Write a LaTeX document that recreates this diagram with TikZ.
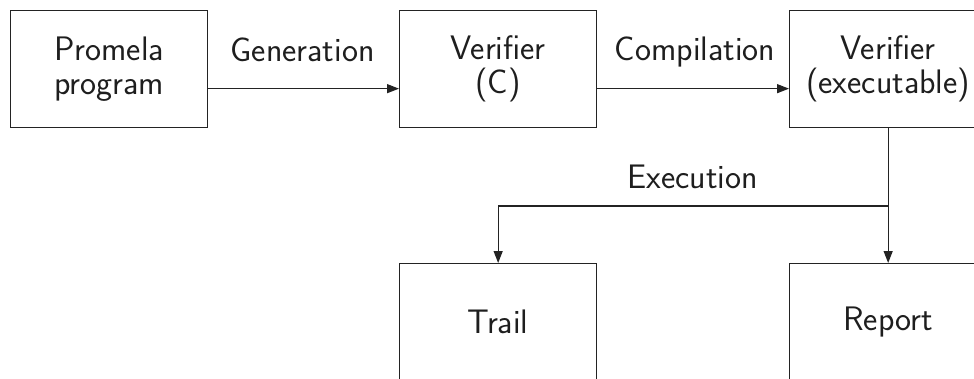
\documentclass[tikz,border=0pt]{standalone}
\usetikzlibrary{arrows.meta}
\definecolor{ln}{RGB}{35,35,35}
\definecolor{tx}{RGB}{30,30,30}
\begin{document}
\begin{tikzpicture}[x=1pt,y=1pt,
  box/.style={draw=ln,line width=1.3pt,minimum width=197pt,minimum height=117pt,inner sep=0pt,anchor=north west,
    align=center,text=tx,font=\sffamily\fontsize{34}{34}\selectfont},
  lbl/.style={inner sep=0pt,anchor=base,text=tx,font=\sffamily\fontsize{34}{34}\selectfont},
  conn/.style={draw=ln,line width=1.3pt},
  arr/.style={conn,-{Triangle[length=12pt,width=9pt]}}]
\useasboundingbox (0,0) rectangle (974,-378);
\clip (0,0) rectangle (974,-378);
\node[box] (P) at (10,-10) {Promela\\program};
\node[box] (C) at (399,-10) {Verifier\\(C)};
\node[box] (E) at (789,-10) {Verifier\\(executable)};
\node[box] (T) at (399,-263) {Trail};
\node[box] (R) at (789,-263) {Report};
\draw[arr] ([yshift=-19.5pt]P.east) -- ([yshift=-19.5pt]C.west);
\draw[arr] ([yshift=-19.5pt]C.east) -- ([yshift=-19.5pt]E.west);
\node[lbl] (g) at (302.5,-61) {Generation};
\node[lbl] (cp) at (695,-60) {Compilation};
\node[lbl] (ex) at (692.5,-188) {Execution};
\draw[arr] (E.south) -- (R.north);
\coordinate (br) at (E.south |- 0,-206);
\draw[arr] (br) -| (T.north);
\end{tikzpicture}
\end{document}
